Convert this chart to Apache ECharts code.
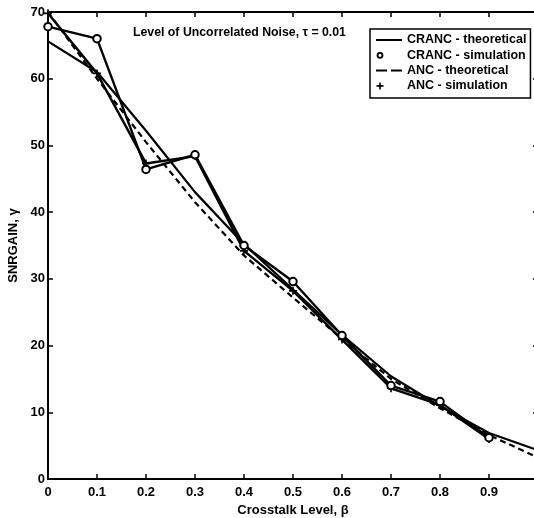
<!DOCTYPE html>
<html><head><meta charset="utf-8">
<script src="https://cdn.jsdelivr.net/npm/echarts@6/dist/echarts.min.js"></script>
<style>html,body{margin:0;padding:0;background:#fff}#c{width:534px;height:518px}</style>
</head><body><div id="c"></div>
<script>
const xValues     = [0, 0.1, 0.2, 0.3, 0.4, 0.5, 0.6, 0.7, 0.8, 0.9, 1.0];
const crancTheory = [65.6, 61.0, 52.2, 43.0, 35.2, 28.4, 21.6, 15.4, 10.9, 6.9, 4.3];
const ancTheory   = [70.0, 60.0, 50.5, 41.5, 33.5, 27.2, 21.0, 15.0, 10.6, 6.6, 3.2];
const crancSimX   = [0, 0.1, 0.2, 0.3, 0.4, 0.5, 0.6, 0.7, 0.8, 0.9];
const crancSim    = [67.8, 66.0, 46.4, 48.6, 35.0, 29.6, 21.5, 14.0, 11.6, 6.2];
const ancSim      = [69.8, 60.8, 47.3, 48.4, 34.2, 28.2, 20.9, 13.6, 11.1, 6.0];
const xTickLabels = ['0', '0.1', '0.2', '0.3', '0.4', '0.5', '0.6', '0.7', '0.8', '0.9', ''];
const yTickLabels = ['0', '10', '20', '30', '40', '50', '60', '70'];

const FONT = "'Liberation Sans', Arial, sans-serif";
const pairs = (xs, ys) => ys.map((y, i) => [xs[i], y]);
const plusPath = 'path://M4,0 L6,0 L6,4 L10,4 L10,6 L6,6 L6,10 L4,10 L4,6 L0,6 L0,4 L4,4 Z';
const BOX = ' M0,0 L0.05,0 L0,0.05 Z M26,8 L25.95,8 L26,7.95 Z';
const solidIcon = 'path://M0,3 L26,3 L26,5 L0,5 Z' + BOX;
const dashIcon = 'path://M0,3 L11,3 L11,5 L0,5 Z M15,3 L26,3 L26,5 L15,5 Z' + BOX;
const ringIcon = 'path://M0.6,4 A3.4,3.4 0 1,1 7.4,4 A3.4,3.4 0 1,1 0.6,4 Z M2.4,4 A1.6,1.6 0 1,0 5.6,4 A1.6,1.6 0 1,0 2.4,4 Z' + BOX;
const plusIcon = 'path://M3.2,0.5 L4.8,0.5 L4.8,3.2 L7.5,3.2 L7.5,4.8 L4.8,4.8 L4.8,7.5 L3.2,7.5 L3.2,4.8 L0.5,4.8 L0.5,3.2 L3.2,3.2 Z' + BOX;
const iconStyle = { color: '#000', borderWidth: 0 };

const axisCommon = {
  axisLine: { show: true, onZero: false, lineStyle: { color: '#000', width: 2 } },
  axisTick: { show: true, inside: true, length: 5, lineStyle: { color: '#000', width: 1.5 } },
  splitLine: { show: false }
};

const chart = echarts.init(document.getElementById('c'), null, { renderer: 'canvas' });
chart.setOption({
  animation: false,
  backgroundColor: '#fff',
  title: {
    text: 'Level of Uncorrelated Noise, τ = 0.01',
    left: 133, top: 27, padding: 0,
    textStyle: { fontFamily: FONT, fontSize: 12.3, fontWeight: 'bold', color: '#000' }
  },
  legend: {
    orient: 'vertical', left: 370, top: 29,
    padding: [4, 4, 5, 6],
    itemWidth: 26, itemHeight: 8, itemGap: 1.3,
    borderColor: '#000', borderWidth: 1.5, backgroundColor: '#fff',
    selectedMode: false,
    textStyle: { fontFamily: FONT, fontSize: 12.5, fontWeight: 'bold', color: '#000', lineHeight: 14 },
    data: [
      { name: 'CRANC - theoretical', icon: solidIcon, itemStyle: iconStyle },
      { name: 'CRANC - simulation', icon: ringIcon, itemStyle: iconStyle },
      { name: 'ANC - theoretical', icon: dashIcon, itemStyle: iconStyle },
      { name: 'ANC - simulation', icon: plusIcon, itemStyle: iconStyle }
    ]
  },
  grid: { left: 48, top: 12, right: -4, bottom: 39, outerBoundsMode: 'none', containLabel: false },
  xAxis: [
    Object.assign({}, axisCommon, {
      type: 'value', min: 0, max: 1, interval: 0.1, position: 'bottom',
      name: 'Crosstalk Level, β', nameLocation: 'middle', nameGap: 23,
      nameTextStyle: { fontFamily: FONT, fontSize: 13, fontWeight: 'bold', color: '#000' },
      axisLabel: {
        margin: 7, fontFamily: FONT, fontSize: 13, fontWeight: 'bold', color: '#000',
        formatter: v => xTickLabels[Math.round(v * 10)]
      }
    }),
    Object.assign({}, axisCommon, {
      type: 'value', min: 0, max: 1, interval: 0.1, position: 'top',
      axisLabel: { show: false }
    })
  ],
  yAxis: [
    Object.assign({}, axisCommon, {
      type: 'value', min: 0, max: 70, interval: 10, position: 'left',
      name: 'SNRGAIN, γ', nameLocation: 'middle', nameGap: 22,
      nameTextStyle: { fontFamily: FONT, fontSize: 13, fontWeight: 'bold', color: '#000' },
      axisLabel: {
        margin: 3, fontFamily: FONT, fontSize: 13, fontWeight: 'bold', color: '#000',
        formatter: v => yTickLabels[Math.round(v / 10)]
      }
    }),
    Object.assign({}, axisCommon, {
      type: 'value', min: 0, max: 70, interval: 10, position: 'right',
      axisLabel: { show: false }
    })
  ],
  series: [
    {
      name: 'CRANC - theoretical', type: 'line', data: pairs(xValues, crancTheory),
      symbol: 'none', lineStyle: { color: '#000', width: 2.2 }, itemStyle: { color: '#000' }, z: 2
    },
    {
      name: 'CRANC - simulation', type: 'line', data: pairs(crancSimX, crancSim),
      symbol: 'emptyCircle', symbolSize: 7.5,
      lineStyle: { color: '#000', width: 2.4 },
      itemStyle: { color: '#000', borderColor: '#000', borderWidth: 2.2 }, z: 4
    },
    {
      name: 'ANC - theoretical', type: 'line', data: pairs(xValues, ancTheory),
      symbol: 'none', lineStyle: { color: '#000', width: 2.2, type: [6, 4] }, itemStyle: { color: '#000' }, z: 2
    },
    {
      name: 'ANC - simulation', type: 'line', data: pairs(crancSimX, ancSim),
      symbol: plusPath, symbolSize: 8,
      lineStyle: { color: '#000', width: 2.4 },
      itemStyle: { color: '#000' }, z: 3
    }
  ]
});
</script></body></html>
